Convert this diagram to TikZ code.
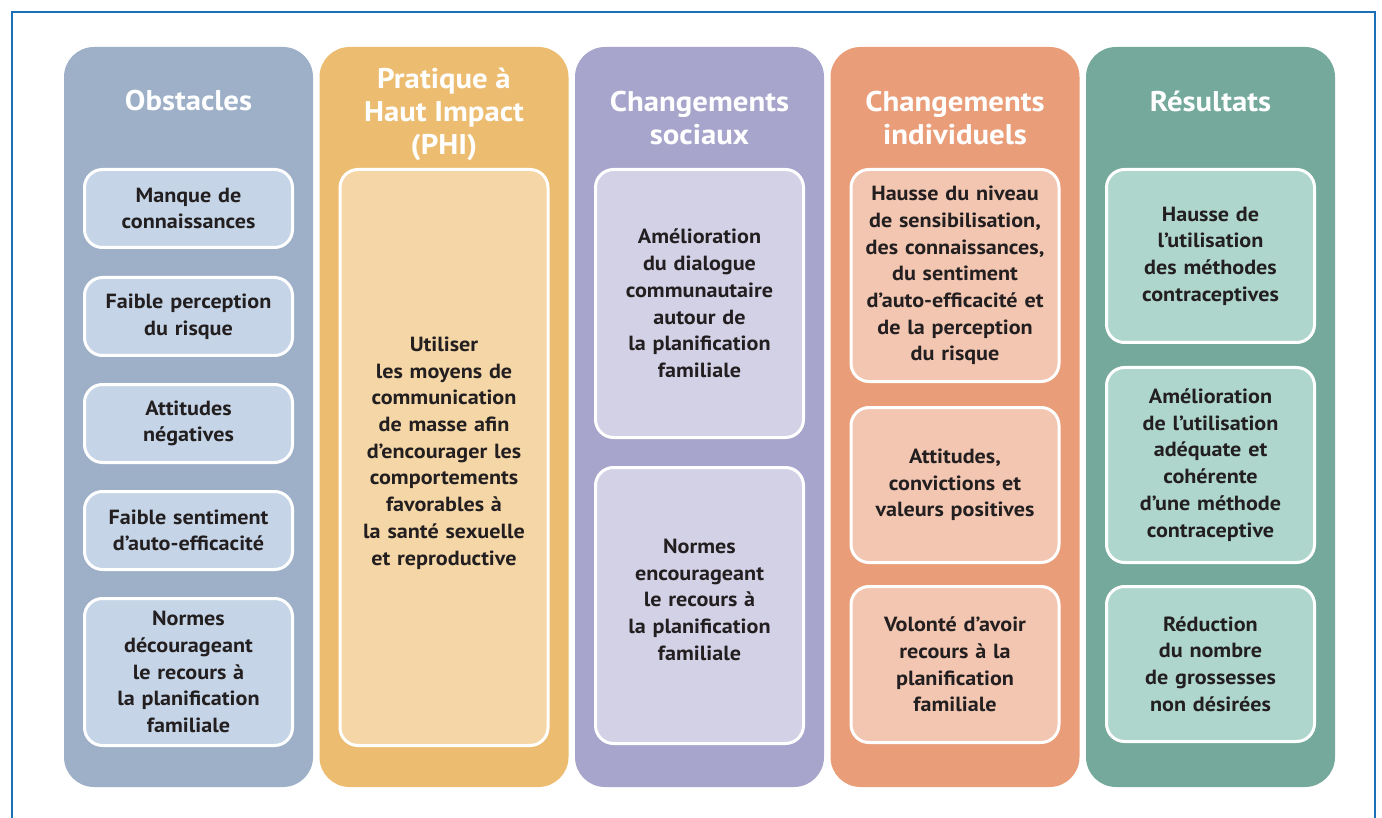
\documentclass[tikz,border=0pt]{standalone}
\usepackage{fontspec}
\setmainfont{PT Sans}[FakeStretch=1.08]
\definecolor{frameblue}{HTML}{1B6FB9}
\definecolor{txt}{HTML}{231F20}
\definecolor{obsD}{HTML}{9DB0C8}\definecolor{obsL}{HTML}{C5D5E7}
\definecolor{phiD}{HTML}{ECBD70}\definecolor{phiL}{HTML}{F5D7A7}
\definecolor{socD}{HTML}{A7A5CC}\definecolor{socL}{HTML}{D3D1E6}
\definecolor{indD}{HTML}{E99D78}\definecolor{indL}{HTML}{F2C6B1}
\definecolor{resD}{HTML}{74A99C}\definecolor{resL}{HTML}{AED6CC}
% invisible strut that lifts a text block inside its box
\newcommand{\liftby}[1]{\rule[-#1]{0pt}{#1}}
\begin{document}
\begin{tikzpicture}[x=1pt,y=-1pt,
  colbox/.style={rectangle, rounded corners=30pt, inner sep=0pt,
    minimum width=249pt, minimum height=740pt, fill=#1},
  head/.style={text=white, align=center, inner sep=0pt,
    font=\bfseries\fontsize{28.5}{33}\selectfont},
  item/.style={rectangle, rounded corners=18pt, draw=white, line width=3pt,
    inner sep=0pt, minimum width=208pt, text width=205pt, align=center,
    text=txt, fill=#1, font=\bfseries\fontsize{20.5}{26.7}\selectfont},
]
\useasboundingbox (0,0) rectangle (1382,818);
\fill[white] (0,0) rectangle (1382,818);
% outer frame, open at the bottom edge of the page
\draw[frameblue, line width=2pt] (12,830) -- (12,12) -- (1375,12) -- (1375,830);

% columns
\node[colbox=obsD] (c1) at (188.5,417) {};
\node[colbox=phiD] (c2) at (444,417) {};
\node[colbox=socD] (c3) at (699.5,417) {};
\node[colbox=indD] (c4) at (955,417) {};
\node[colbox=resD] (c5) at (1210.5,417) {};

% column titles
\node[head] (h1) at (188.5,101) {Obstacles};
\node[head] (h2) at (444,114) {Pratique à\\Haut Impact\\(PHI)};
\node[head] (h3) at (699.5,118) {Changements\\sociaux};
\node[head] (h4) at (955,118) {Changements\\individuels};
\node[head] (h5) at (1210.5,101) {Résultats};

% Obstacles
\node[item=obsL, minimum height=78pt] (o1) at (188.5,208.5) {Manque de\\connaissances};
\node[item=obsL, minimum height=78pt] (o2) at (188.5,316.5) {Faible perception\\du risque};
\node[item=obsL, minimum height=78pt] (o3) at (188.5,423.5) {Attitudes\\négatives};
\node[item=obsL, minimum height=78pt] (o4) at (188.5,530.5) {Faible sentiment\\d’auto-efficacité};
\node[item=obsL, minimum height=147pt] (o5) at (188.5,672) {Normes\\décourageant\\le recours à\\la planification\\familiale};

% PHI
\node[item=phiL, minimum height=576pt] (p1) at (444,457.5) {Utiliser\\les moyens de\\communication\\de masse afin\\d’encourager les\\comportements\\favorables à\\la santé sexuelle\\et reproductive\liftby{13pt}};

% Changements sociaux
\node[item=socL, minimum height=268pt] (s1) at (699.5,303.5) {Amélioration\\du dialogue\\communautaire\\autour de\\la planification\\familiale};
\node[item=socL, minimum height=276pt] (s2) at (699.5,605.5) {Normes\\encourageant\\le recours à\\la planification\\familiale\liftby{12pt}};

% Changements individuels
\node[item=indL, minimum height=212pt] (i1) at (955,275.5) {Hausse du niveau\\de sensibilisation,\\des connaissances,\\du sentiment\\d’auto-efficacité et\\de la perception\\du risque};
\node[item=indL, minimum height=155pt] (i2) at (955,485) {Attitudes,\\convictions et\\valeurs positives};
\node[item=indL, minimum height=156pt] (i3) at (955,664.5) {Volonté d’avoir\\recours à la\\planification\\familiale};

% Résultats
\node[item=resL, minimum height=173pt] (r1) at (1210.5,256) {Hausse de\\l’utilisation\\des méthodes\\contraceptives};
\node[item=resL, minimum height=195pt] (r2) at (1210.5,465) {Amélioration\\de l’utilisation\\adéquate et\\cohérente\\d’une méthode\\contraceptive};
\node[item=resL, minimum height=155pt] (r3) at (1210.5,664) {Réduction\\du nombre\\de grossesses\\non désirées};
\end{tikzpicture}
\end{document}
